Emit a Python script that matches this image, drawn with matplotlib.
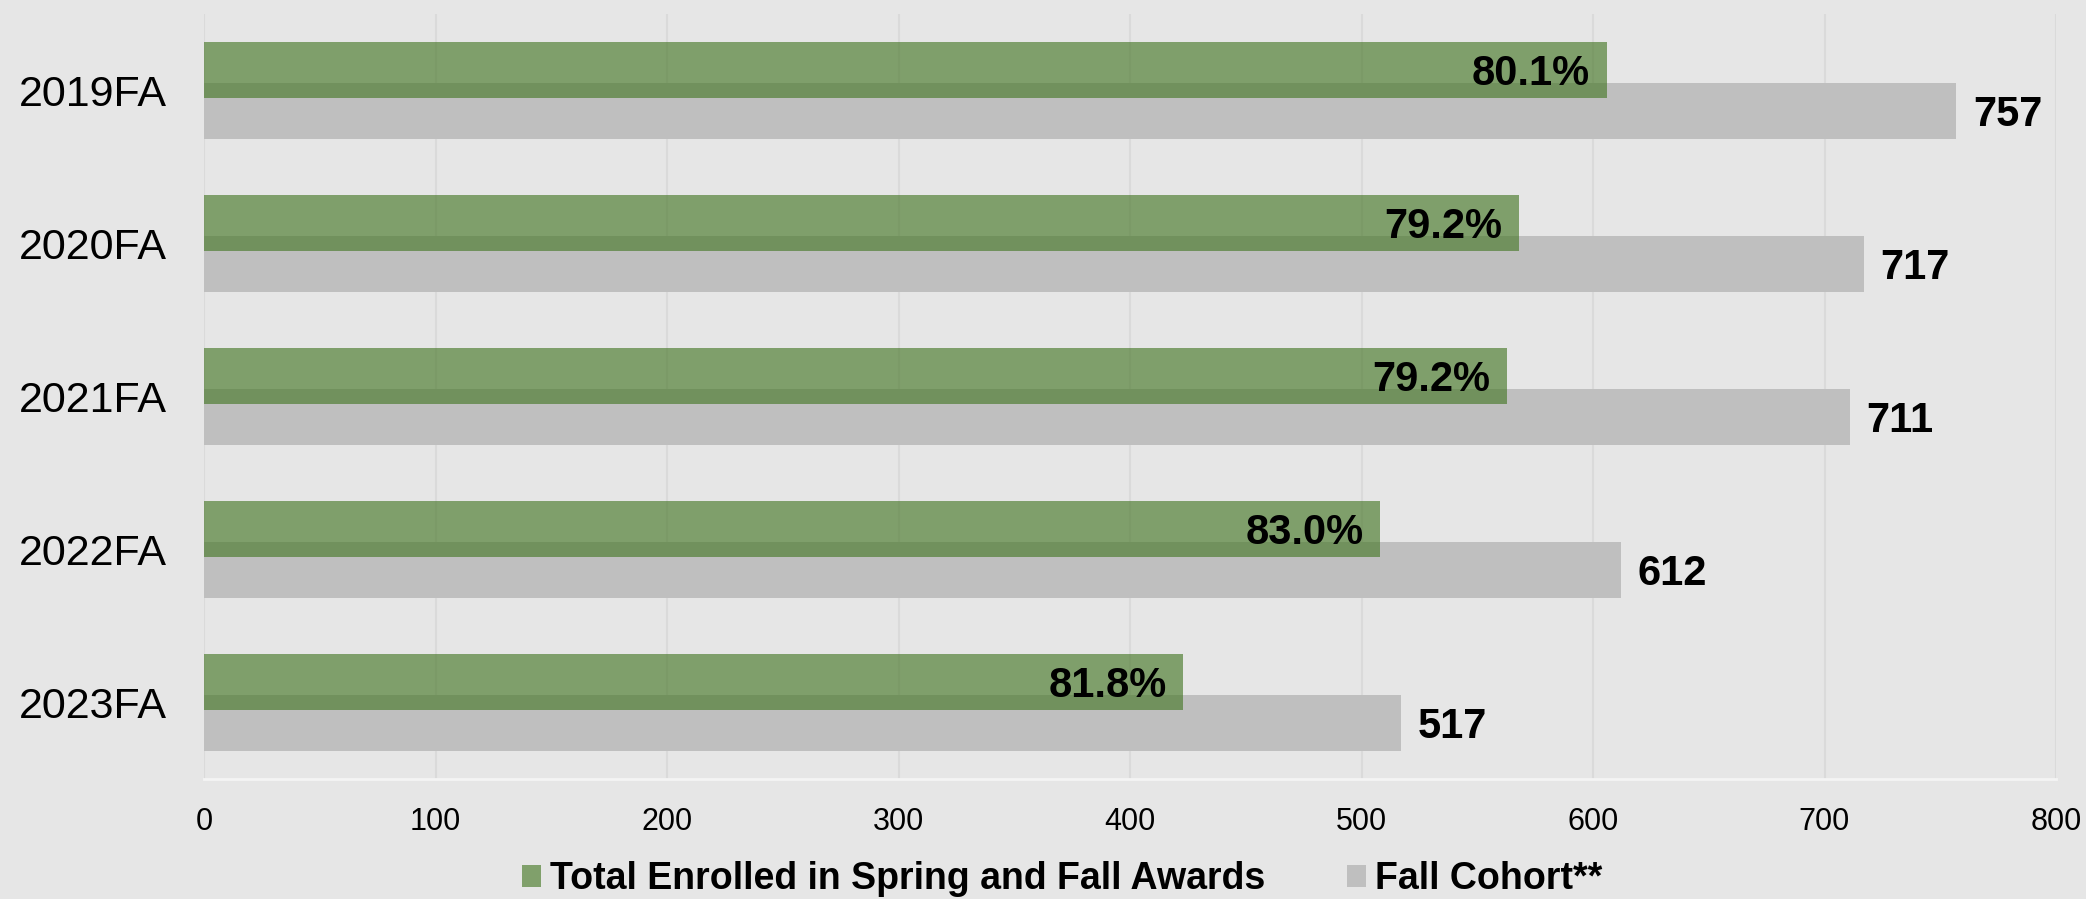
import matplotlib
matplotlib.use('Agg')
import matplotlib.pyplot as plt
from matplotlib.patches import Patch
import numpy as np

# Chart data
terms = ['2019FA', '2020FA', '2021FA', '2022FA', '2023FA']
enrolled = [606, 568, 563, 508, 423]
cohort = [757, 717, 711, 612, 517]
pct = [80.1, 79.2, 79.2, 83.0, 81.8]
xticks = [0, 100, 200, 300, 400, 500, 600, 700, 800]

bg = '#E6E6E6'
green = '#467726'
gray = '#BFBFBF'
plt.rcParams['font.family'] = ['Liberation Sans', 'DejaVu Sans']

W, H = 2086, 899
fig = plt.figure(figsize=(W / 100, H / 100), dpi=100, facecolor=bg)
ax = fig.add_axes([204 / W, 1 - 779 / H, (2056 - 204) / W, (779 - 14) / H])
ax.set_facecolor(bg)

y = np.arange(len(terms))
off = 0.134
h = 0.366

ax.barh(y + off, cohort, height=h, color=gray, zorder=2)
ax.barh(y - off, enrolled, height=h, color=green, alpha=0.64, zorder=3)

# labels: percent inside green bar end, cohort count after gray bar
for i in range(len(terms)):
    ax.annotate('%.1f%%' % pct[i], (enrolled[i], y[i] - off), xytext=(-12, -3),
                textcoords='offset points', ha='right', va='center',
                fontsize=30, fontweight='bold', color='black', zorder=4)
    ax.annotate(str(cohort[i]), (cohort[i], y[i] + off), xytext=(12, -3),
                textcoords='offset points', ha='left', va='center',
                fontsize=30, fontweight='bold', color='black', zorder=4)

ax.set_xlim(0, 800)
ax.set_ylim(len(terms) - 0.5, -0.5)
ax.set_xticks(xticks)
ax.set_yticks(y)
ax.set_yticklabels(terms)
ax.tick_params(axis='y', length=0, pad=27, labelsize=31)
ax.tick_params(axis='x', length=0, pad=20, labelsize=22)

ax.grid(axis='x', color='#DADADA', linewidth=1.5, zorder=0)
ax.set_axisbelow(True)
for s in ['top', 'right', 'left']:
    ax.spines[s].set_visible(False)
ax.spines['bottom'].set_color('#F4F4F4')
ax.spines['bottom'].set_linewidth(2)

handles = [Patch(facecolor='#80A06B', label='Total Enrolled in Spring and Fall Awards'),
           Patch(facecolor=gray, label='Fall Cohort**')]
fig.legend(handles=handles, loc='center', bbox_to_anchor=(1062 / W, 1 - 879 / H),
           ncol=2, frameon=False, prop={'size': 27, 'weight': 'bold'},
           handlelength=0.51, handleheight=0.51, handletextpad=0.24,
           columnspacing=2.16, borderpad=0, borderaxespad=0)

fig.savefig('out.png', dpi=100, facecolor=bg)
